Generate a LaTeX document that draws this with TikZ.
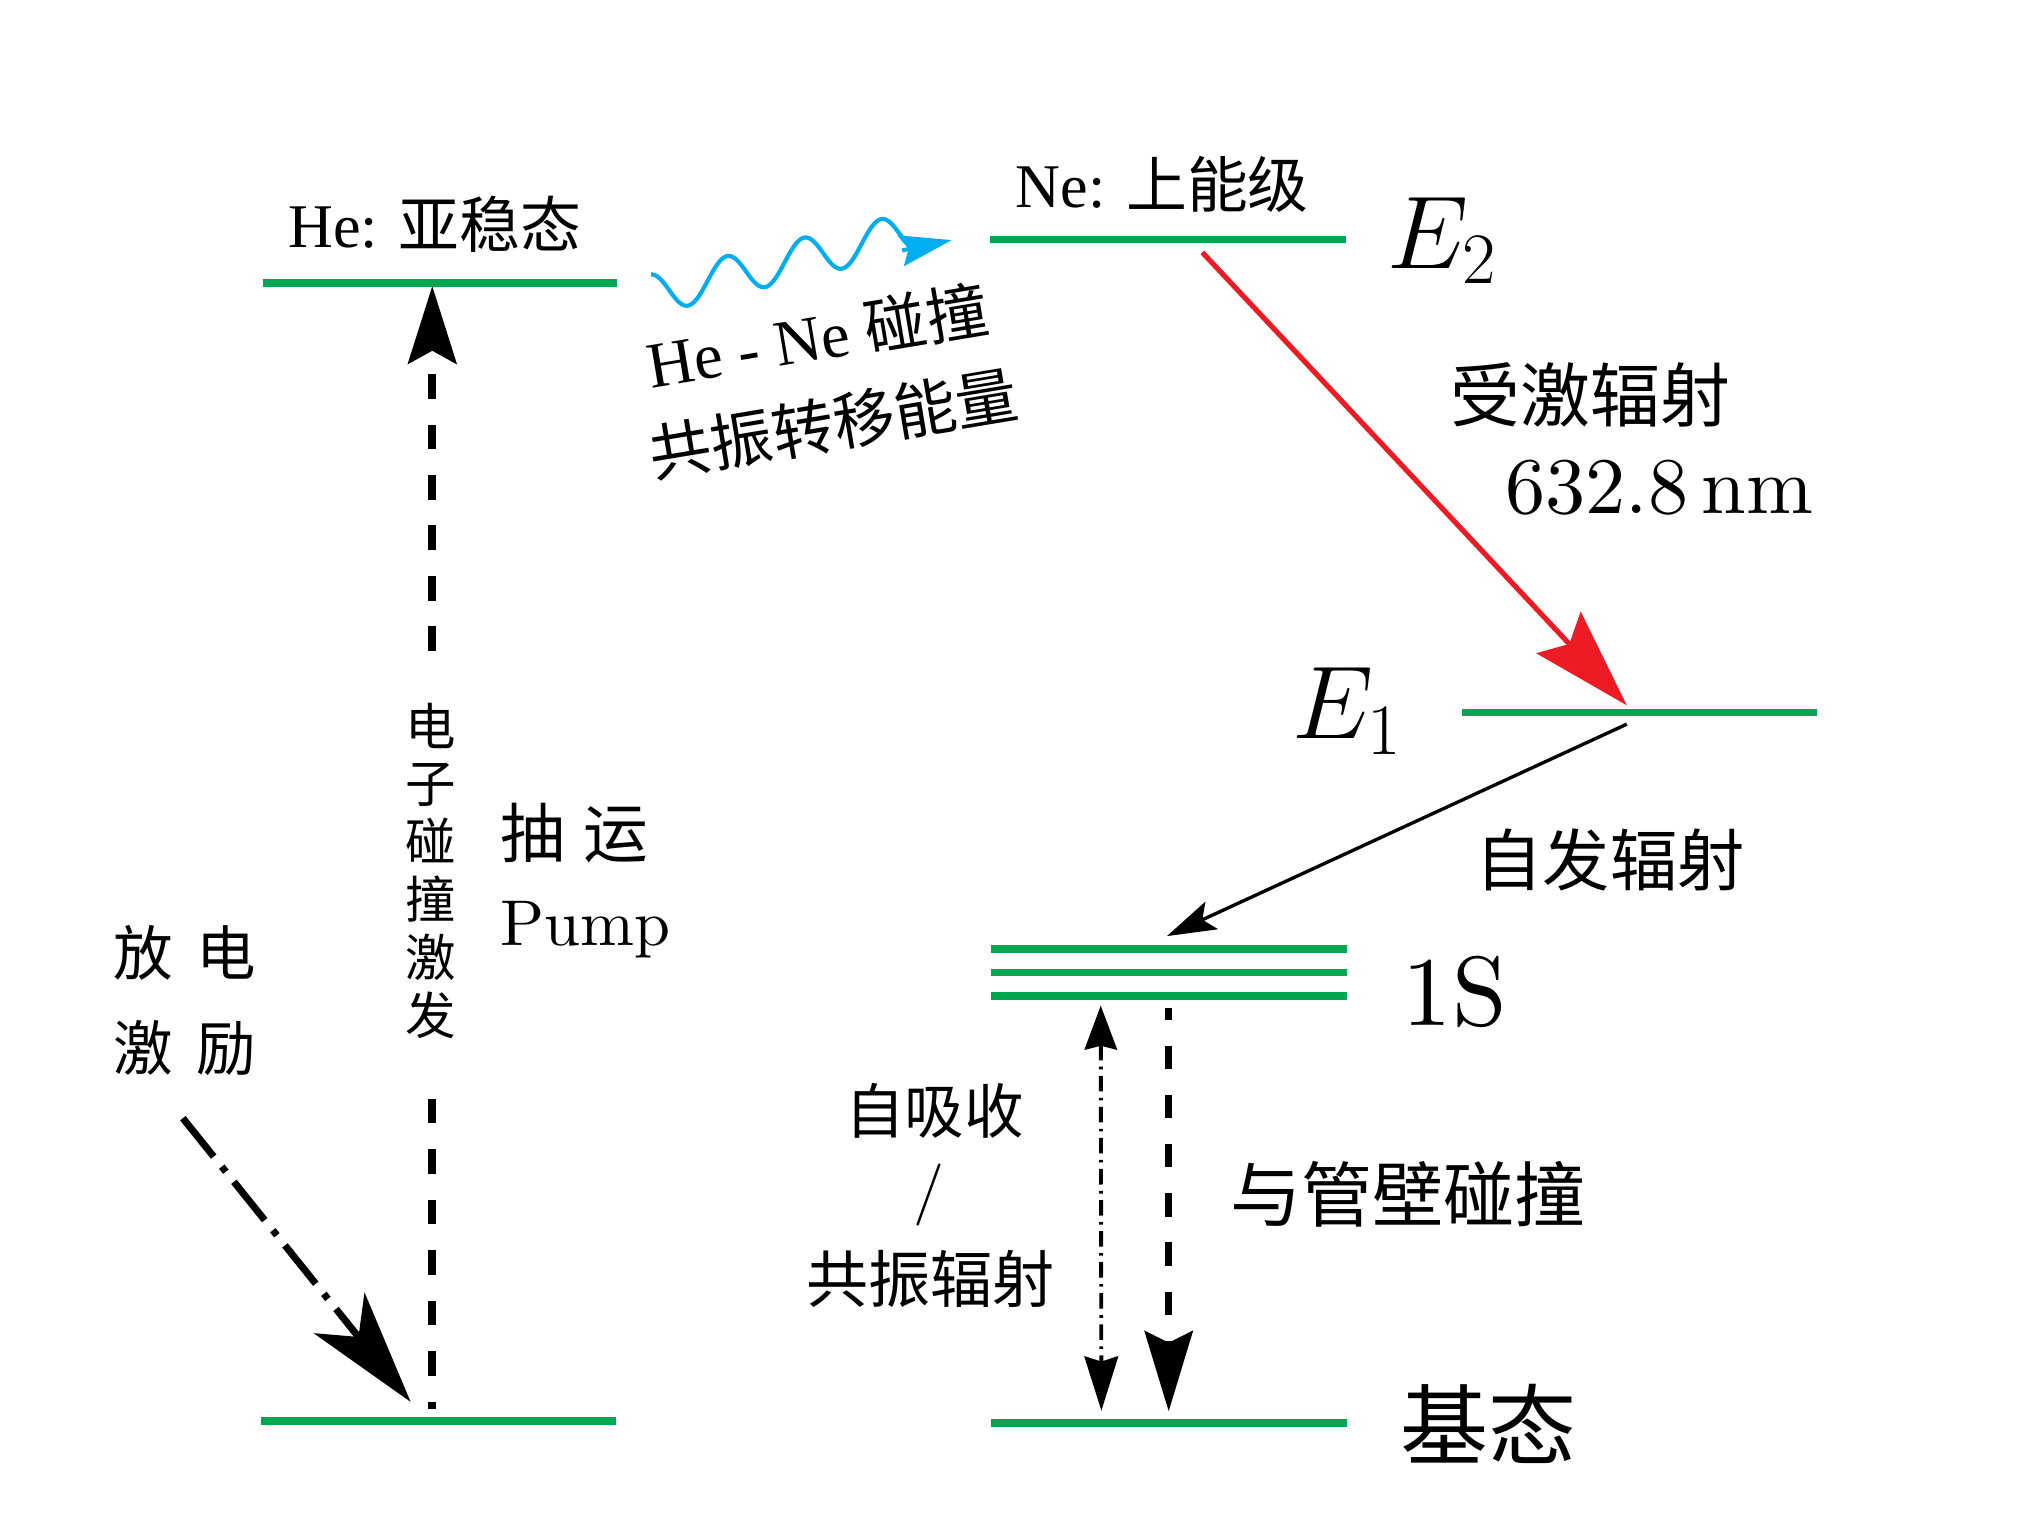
\RequirePackage{fix-cm}
\documentclass[tikz,border=0pt]{standalone}
\usepackage{fontspec}
\newfontfamily\cjk{Noto Sans CJK SC}
\newfontfamily\tms{Liberation Serif}
\newfontfamily\lmten{lmroman10-regular.otf}
\usetikzlibrary{arrows.meta}
\definecolor{lvgreen}{RGB}{0,166,81}
\definecolor{lred}{RGB}{237,28,36}
\definecolor{lcyan}{RGB}{0,174,239}
\newcommand\cjkfs[1]{\cjk\fontsize{#1pt}{#1pt}\selectfont}
\newcommand\tmsfs[1]{\tms\fontsize{#1pt}{#1pt}\selectfont}
\newcommand\lmfs[1]{\lmten\fontsize{#1pt}{#1pt}\selectfont}
\begin{document}
\begin{tikzpicture}[x=0.5pt,y=-0.5pt,
  level/.style={draw=lvgreen,line width=2.9pt},
  txt/.style={inner sep=0pt,outer sep=0pt},
  pumpline/.style={line width=3pt,dash pattern=on 9.5pt off 10pt},
  wavy/.style={draw=lcyan,line width=1.6pt},
  redarrow/.style={draw=lred,line width=2pt,-{Stealth[length=38.5pt,width=23.3pt,inset=6pt,fill=lred]}},
  spont/.style={line width=1.3pt,-{Stealth[length=19pt,width=11.6pt,inset=3.9pt]}},
  thindd/.style={line width=1.5pt,dash pattern=on 6pt off 2.5pt on 1pt off 2.5pt,
     {Stealth[length=17pt,width=12.5pt,inset=1.5pt]}-{Stealth[length=21pt,width=13pt,inset=2pt]}},
  thickdash/.style={line width=2.9pt,dash pattern=on 9pt off 10pt,dash phase=4.5pt,
     -{Stealth[length=31pt,width=18.5pt,inset=4.5pt]}},
  leftdd/.style={line width=2.7pt,dash pattern=on 19pt off 5pt on 2.5pt off 5pt,
     -{Stealth[length=44pt,width=25pt,inset=11.8pt]}}
]
\useasboundingbox (0,0) rectangle (1560,1178.3);

% energy levels
\coordinate (heL) at (203,218.5);  \coordinate (heR) at (477,218.5);
\coordinate (gaL) at (202,1098);   \coordinate (gaR) at (476,1098);
\coordinate (neL) at (765,185);    \coordinate (neR) at (1040,185);
\coordinate (eoL) at (1130,550.5); \coordinate (eoR) at (1404,550.5);
\coordinate (saL) at (766,733.1);  \coordinate (saR) at (1041,733.1);
\coordinate (sbL) at (766,751.4);  \coordinate (sbR) at (1041,751.4);
\coordinate (scL) at (766,769.5);  \coordinate (scR) at (1041,769.5);
\coordinate (gbL) at (766,1099.5); \coordinate (gbR) at (1041,1099.5);
\draw[level] (heL) -- (heR);
\draw[level] (gaL) -- (gaR);
\draw[level] (neL) -- (neR);
\draw[level] (eoL) -- (eoR);
\draw[level] (saL) -- (saR);
\draw[level] (sbL) -- (sbR);
\draw[level] (scL) -- (scR);
\draw[level] (gbL) -- (gbR);

% wavy energy transfer
\draw[wavy] plot[domain=0:197,samples=160,smooth] ({503+\x},{227.5-0.24*\x+15.5*sin((\x-14)*6.0504)});
\coordinate (wvB) at (697,193.5); \coordinate (wvT) at (735.3,185.5);
\draw[wavy,-{Stealth[length=20pt,width=12pt,inset=3pt]}] (wvB) -- (wvT);

% stimulated emission
\coordinate (rS) at (929,195); \coordinate (rT) at (1257,545);
\draw[redarrow] (rS) -- (rT);

% spontaneous emission
\coordinate (bS) at (1257,559.5); \coordinate (bT) at (901.6,723.3);
\draw[spont] (bS) -- (bT);

% self absorption / resonance radiation
\coordinate (tdT) at (850.5,777); \coordinate (tdB) at (851,1090);
\draw[thindd] (tdT) -- (tdB);

% wall collision
\coordinate (kdT) at (903,779); \coordinate (kdB) at (903,1090.5);
\draw[thickdash] (kdT) -- (kdB);

% pump
\coordinate (pB) at (334,1088.5); \coordinate (pM1) at (334,849);
\coordinate (pM2) at (334,503);   \coordinate (pT) at (334,221);
\draw[pumpline] (pM1) -- (pB);
\draw[pumpline,-{Stealth[length=30pt,width=18.7pt,inset=5pt]}] (pM2) -- (pT);

% discharge excitation
\coordinate (lS) at (141.3,864); \coordinate (lT) at (317.3,1083.2);
\draw[leftdd] (lS) -- (lT);

% labels
\node[txt,anchor=base] (heT) at (336,191) {\tmsfs{24}He: \cjkfs{23.5}亚稳态};
\node[txt,anchor=base] (neT) at (898,160) {\tmsfs{24}Ne: \cjkfs{23.5}上能级};
\node[txt,anchor=base west] (e2) at (1072,207.4) {\fontsize{40pt}{40pt}\selectfont$E_2$};
\node[txt,anchor=base west] (e1) at (999,570.6) {\fontsize{40pt}{40pt}\selectfont$E_1$};
\node[txt,anchor=base west] (s1) at (1084,792.5) {\lmfs{38}1S};
\node[txt,rotate=9.5,anchor=base west] (hene) at (503,300) {\tmsfs{25}He - Ne \cjkfs{24}碰撞};
\node[txt,rotate=9.5,anchor=base west] (gz) at (505,369) {\cjkfs{24}共振转移能量};
\node[txt] (sj) at (1229,305) {\cjkfs{27}受激辐射};
\node[txt,anchor=base] (wl) at (1282,396.7) {\lmfs{31}632.8\,nm};
\node[txt] (zf) at (1244,664.6) {\cjkfs{26}自发辐射};
\node[txt] (gb) at (1088,923) {\cjkfs{27.5}与管壁碰撞};
\node[txt] (jt) at (1150,1100) {\cjkfs{34}基态};
\node[txt] (zx) at (722,858.5) {\cjkfs{23}自吸收};
\node[txt] (sl) at (718,923) {\lmfs{24}/};
\node[txt] (gf) at (719,988.5) {\cjkfs{24}共振辐射};
\node[txt] (cy) at (444,643.4) {\cjkfs{25}抽\hspace{7pt}运};
\node[txt,anchor=base west] (pm) at (387,730.3) {\lmfs{25}Pump};
\node[txt,align=center,font={\cjk\fontsize{23pt}{36.7pt}\selectfont}] (fd) at (143,772.7) {放\hspace{9pt}电\\激\hspace{9pt}励};
\node[txt,align=center,font={\cjk\fontsize{19.5pt}{22.35pt}\selectfont}] (dz) at (333,672.7) {电\\子\\碰\\撞\\激\\发};
\end{tikzpicture}
\end{document}
